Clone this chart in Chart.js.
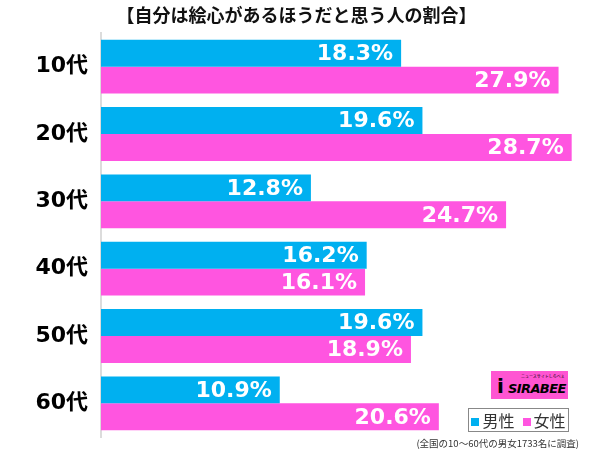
<!DOCTYPE html>
<html>
<head>
<meta charset="utf-8">
<script src="https://cdn.jsdelivr.net/npm/chart.js@4/dist/chart.umd.min.js"></script>
<style>
  body { margin:0; background:#fff; }
  #wrap { position:relative; width:600px; height:449px; }
  #logo { position:absolute; left:491px; top:371px; width:77px; height:28px; background:#ff55d2; overflow:hidden; }
  #logo .tag { position:absolute; left:30px; top:2px; font:4px "Noto Sans CJK JP"; color:#000; white-space:nowrap; }
  #logo .name { position:absolute; left:17px; top:10px; font:italic bold 13px "DejaVu Sans", sans-serif; color:#000; letter-spacing:-0.6px; }
  #logo .ico { position:absolute; left:6px; top:3px; font:bold 20px "DejaVu Sans", sans-serif; color:#000; }
  #legend { position:absolute; left:468px; top:408px; width:99px; height:22px; border:1px solid #888; box-sizing:content-box;
            font:16px "Noto Sans CJK JP", sans-serif; color:#333; display:flex; align-items:center; justify-content:center; gap:8px; }
  #legend span i { display:inline-block; width:8px; height:8px; margin-right:3px; vertical-align:1px; }
  #note { position:absolute; right:21px; top:436px; font:9.5px "Noto Sans CJK JP", sans-serif; color:#333; }
</style>
</head>
<body>
<div id="wrap">
  <canvas id="chart" width="600" height="449"></canvas>
  <div id="logo"><span class="ico">i</span><span class="tag">ニュースサイトしらべぇ</span><span class="name">SIRABEE</span></div>
  <div id="legend"><span><i style="background:#00b0f0"></i>男性</span><span><i style="background:#ff55e0"></i>女性</span></div>
  <div id="note">(全国の10～60代の男女1733名に調査)</div>
</div>
<script>
const categories = ['10代', '20代', '30代', '40代', '50代', '60代'];
const male = [18.3, 19.6, 12.8, 16.2, 19.6, 10.9];
const female = [27.9, 28.7, 24.7, 16.1, 18.9, 20.6];

// white value labels at the end of each bar
const valueLabels = {
  id: 'valueLabels',
  afterDatasetsDraw(chart) {
    const ctx = chart.ctx;
    ctx.save();
    ctx.font = 'bold 22px "DejaVu Sans", sans-serif';
    ctx.fillStyle = '#fff';
    ctx.textAlign = 'right';
    ctx.textBaseline = 'middle';
    chart.data.datasets.forEach((ds, i) => {
      chart.getDatasetMeta(i).data.forEach((bar, j) => {
        ctx.fillText(ds.data[j].toFixed(1) + '%', bar.x - 8, bar.y + 1);
      });
    });
    ctx.restore();
  }
};

new Chart(document.getElementById('chart'), {
  type: 'bar',
  data: {
    labels: categories,
    datasets: [
      { label: '男性', data: male, backgroundColor: '#00b0f0' },
      { label: '女性', data: female, backgroundColor: '#ff55e0' }
    ]
  },
  options: {
    indexAxis: 'y',
    responsive: false,
    animation: false,
    categoryPercentage: 0.8,
    barPercentage: 1,
    layout: { padding: { left: 0, right: 7, top: 0, bottom: 12 } },
    plugins: {
      legend: { display: false },
      tooltip: { enabled: false },
      title: {
        display: true,
        text: '【自分は絵心があるほうだと思う人の割合】',
        color: '#111',
        font: { family: '"Noto Sans CJK JP", sans-serif', size: 18, weight: 'bold' },
        padding: { top: 4, bottom: 7.4 }
      }
    },
    scales: {
      x: { display: false, min: 0, max: 30 },
      y: {
        grid: { display: false, drawTicks: false },
        border: { display: true, color: '#dcdcdc', width: 2 },
        ticks: {
          color: '#000',
          padding: 13,
          font: { family: '"DejaVu Sans", "Noto Sans CJK JP", sans-serif', size: 22, weight: 'bold' }
        },
        afterFit(scale) {
          scale.width = 101;
          scale.paddingTop = 0;
          scale.paddingBottom = 0;
        }
      }
    }
  },
  plugins: [valueLabels]
});
</script>
</body>
</html>
